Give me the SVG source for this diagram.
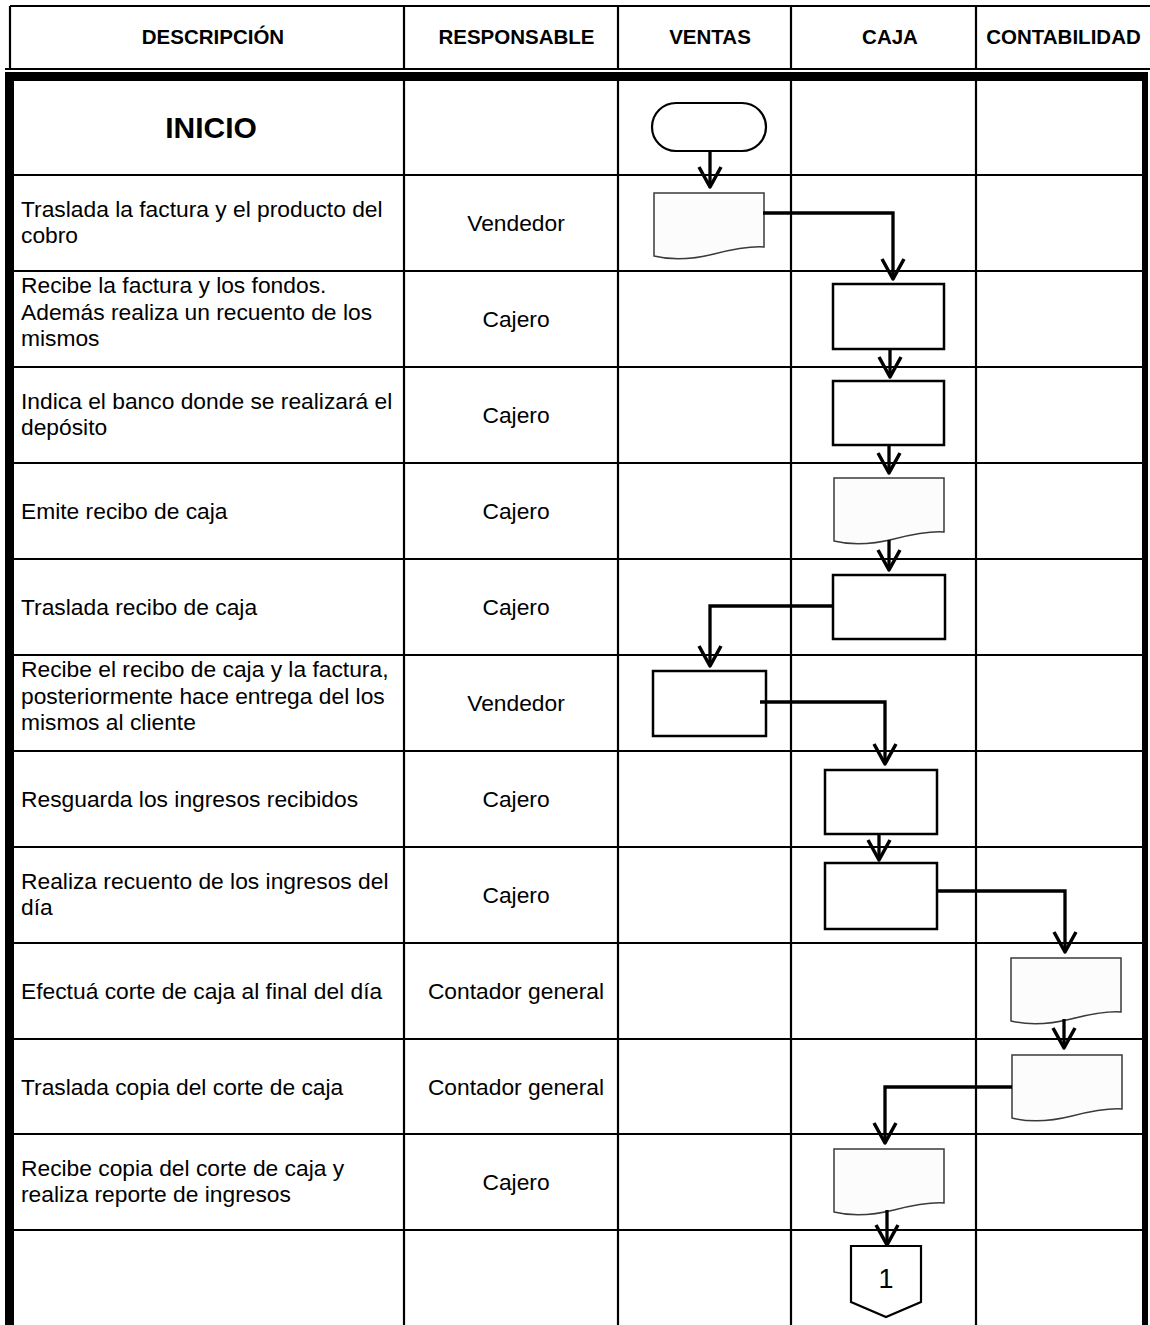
<svg xmlns="http://www.w3.org/2000/svg" width="1150" height="1325" viewBox="0 0 1150 1325">
<style>
.grid{stroke:#000;stroke-width:2.2;fill:none}
.hdr{font-family:"Liberation Sans",Arial,sans-serif;font-weight:bold;font-size:20.5px;fill:#000;text-anchor:middle}
.ini{font-family:"Liberation Sans",Arial,sans-serif;font-weight:bold;font-size:30px;fill:#000;text-anchor:middle}
.desc{font-family:"Liberation Sans",Arial,sans-serif;font-size:22.8px;fill:#000}
.resp{font-family:"Liberation Sans",Arial,sans-serif;font-size:22.8px;fill:#000;text-anchor:middle}
.num{font-family:"Liberation Sans",Arial,sans-serif;font-size:27px;fill:#000;text-anchor:middle}
.box{fill:#fff;stroke:#000;stroke-width:2.5}
.doc{fill:#fcfcfc;stroke:#3a3a3a;stroke-width:1.5}
.term{fill:#fff;stroke:#000;stroke-width:2.2}
.con{fill:none;stroke:#000;stroke-width:3.3;marker-end:url(#arr)}
</style>
<defs>
<marker id="arr" markerUnits="userSpaceOnUse" viewBox="-24 -14 27 28" refX="0" refY="0" markerWidth="27" markerHeight="28" orient="auto">
<path d="M-20,-11 L0,0 L-20,11" fill="none" stroke="#000" stroke-width="3.5" stroke-linejoin="round"/>
</marker>
<path id="docshape" d="M0,0 H110 V54 C95,53 80,56 60,61 C40,66 20,68 0,63 Z"/>
</defs>
<rect width="1150" height="1325" fill="#fff"/>

<g id="table">
<path class="grid" d="M10,6 H1150 M10,6 V69 M5,69 H1150 M404,6 V69 M618,6 V69 M791,6 V69 M976,6 V69"/>
<rect x="5" y="72" width="1143" height="9" fill="#000"/>
<rect x="5" y="72" width="9" height="1253" fill="#000"/>
<rect x="1142" y="72" width="6" height="1253" fill="#000"/>
<path class="grid" d="M404,81 V1325 M618,81 V1325 M791,81 V1325 M976,81 V1325
M14,175 H1142 M14,271 H1142 M14,367 H1142 M14,463 H1142 M14,559 H1142 M14,655 H1142
M14,751 H1142 M14,847 H1142 M14,943 H1142 M14,1039 H1142 M14,1134 H1142 M14,1230 H1142"/>
<text class="hdr" x="213" y="43.5">DESCRIPCIÓN</text>
<text class="hdr" x="516.5" y="43.5">RESPONSABLE</text>
<text class="hdr" x="710" y="43.5">VENTAS</text>
<text class="hdr" x="890" y="43.5">CAJA</text>
<text class="hdr" x="1063.5" y="43.5">CONTABILIDAD</text>
<text class="ini" x="211" y="138">INICIO</text>
</g>

<g id="descriptions">
<text class="desc" x="21" y="217">Traslada la factura y el producto del</text>
<text class="desc" x="21" y="243">cobro</text>
<text class="desc" x="21" y="293">Recibe la factura y los fondos.</text>
<text class="desc" x="21" y="319.5">Además realiza un recuento de los</text>
<text class="desc" x="21" y="346">mismos</text>
<text class="desc" x="21" y="409">Indica el banco donde se realizará el</text>
<text class="desc" x="21" y="435">depósito</text>
<text class="desc" x="21" y="519">Emite recibo de caja</text>
<text class="desc" x="21" y="615">Traslada recibo de caja</text>
<text class="desc" x="21" y="677">Recibe el recibo de caja y la factura,</text>
<text class="desc" x="21" y="703.5">posteriormente hace entrega del los</text>
<text class="desc" x="21" y="730">mismos al cliente</text>
<text class="desc" x="21" y="807">Resguarda los ingresos recibidos</text>
<text class="desc" x="21" y="889">Realiza recuento de los ingresos del</text>
<text class="desc" x="21" y="915">día</text>
<text class="desc" x="21" y="999">Efectuá corte de caja al final del día</text>
<text class="desc" x="21" y="1094.5">Traslada copia del corte de caja</text>
<text class="desc" x="21" y="1176">Recibe copia del corte de caja y</text>
<text class="desc" x="21" y="1202">realiza reporte de ingresos</text>
</g>

<g id="responsables">
<text class="resp" x="516" y="231">Vendedor</text>
<text class="resp" x="516" y="327">Cajero</text>
<text class="resp" x="516" y="423">Cajero</text>
<text class="resp" x="516" y="519">Cajero</text>
<text class="resp" x="516" y="615">Cajero</text>
<text class="resp" x="516" y="711">Vendedor</text>
<text class="resp" x="516" y="807">Cajero</text>
<text class="resp" x="516" y="903">Cajero</text>
<text class="resp" x="516" y="999">Contador general</text>
<text class="resp" x="516" y="1094.5">Contador general</text>
<text class="resp" x="516" y="1190">Cajero</text>
</g>

<g id="n-inicio"><rect class="term" x="652" y="103" width="114" height="48" rx="24" ry="24"/></g>
<g id="n-traslada-factura"><use href="#docshape" class="doc" transform="translate(654,193)"/></g>
<g id="n-recibe-factura"><rect class="box" x="833" y="284" width="111" height="65"/></g>
<g id="n-indica-banco"><rect class="box" x="833" y="381" width="111" height="64"/></g>
<g id="n-emite-recibo"><use href="#docshape" class="doc" transform="translate(834,478)"/></g>
<g id="n-traslada-recibo"><rect class="box" x="833" y="575" width="112" height="64"/></g>
<g id="n-recibe-recibo"><rect class="box" x="653" y="671" width="113" height="65"/></g>
<g id="n-resguarda"><rect class="box" x="825" y="770" width="112" height="64"/></g>
<g id="n-recuento"><rect class="box" x="825" y="863" width="112" height="66"/></g>
<g id="n-corte"><use href="#docshape" class="doc" transform="translate(1011,958)"/></g>
<g id="n-copia-corte"><use href="#docshape" class="doc" transform="translate(1012,1055)"/></g>
<g id="n-reporte"><use href="#docshape" class="doc" transform="translate(834,1149)"/></g>
<g id="n-conector">
<polygon points="851,1246 921,1246 921,1302 886,1317 851,1302" fill="#fff" stroke="#000" stroke-width="2.2"/>
<text class="num" x="886" y="1288">1</text>
</g>

<g id="connectors">
<path class="con" d="M710,151 V187"/>
<path class="con" d="M763,213 H893 V279"/>
<path class="con" d="M890,349 V377"/>
<path class="con" d="M889,445 V473"/>
<path class="con" d="M889,540 V570"/>
<path class="con" d="M833,606 H710 V666"/>
<path class="con" d="M760,702 H885 V764"/>
<path class="con" d="M879,834 V860"/>
<path class="con" d="M937,891 H1065 V952"/>
<path class="con" d="M1064,1019 V1048"/>
<path class="con" d="M1012,1087 H885 V1143"/>
<path class="con" d="M887,1210 V1245"/>
</g>
</svg>
